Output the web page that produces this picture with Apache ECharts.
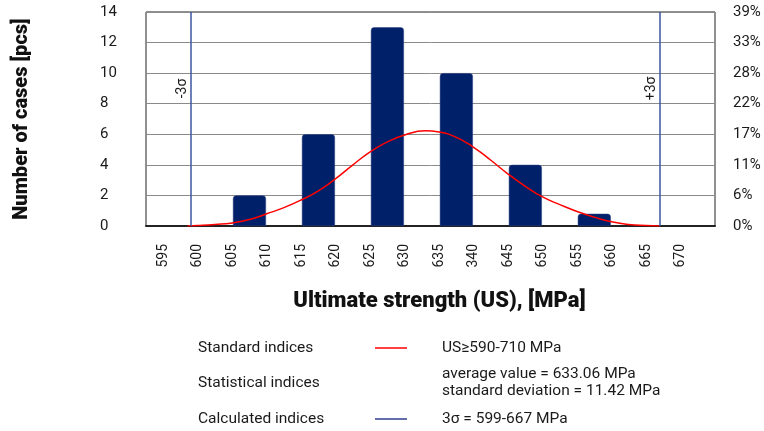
<!DOCTYPE html>
<html>
<head>
<meta charset="utf-8">
<script src="https://cdn.jsdelivr.net/npm/echarts@6/dist/echarts.min.js"></script>
<style>
html,body{margin:0;padding:0;background:#fff;}
#c{width:764px;height:431px;}
</style>
</head>
<body>
<div id="c"></div>
<script>
// ---- data ----
const binCenters = [607.5, 617.5, 627.5, 637.5, 647.5, 657.5];
const binCounts = [2, 6, 13, 10, 4, 0.8];
const curveX = [598.5, 600, 602.5, 605, 607.5, 610, 612.5, 615, 617.5, 620, 622.5, 625, 627.5, 630, 633, 635, 637.5, 640, 642.5, 645, 647.5, 650, 652.5, 655, 657.5, 660, 662.5, 665, 667];
const curveY = [0, 0.03, 0.1, 0.2, 0.42, 0.8, 1.2, 1.7, 2.3, 3.1, 4.0, 4.85, 5.5, 5.95, 6.23, 6.15, 5.8, 5.15, 4.3, 3.4, 2.6, 1.9, 1.4, 0.95, 0.58, 0.28, 0.1, 0.03, 0];
const xTickValues = [595, 600, 605, 610, 615, 620, 625, 630, 635, 640, 645, 650, 655, 660, 665, 670];
const xTickLabels = ['595', '600', '605', '610', '615', '620', '625', '630', '635', '340', '645', '650', '655', '660', '665', '670'];
const rightTickLabels = ['0%', '6%', '11%', '17%', '22%', '28%', '33%', '39%'];
const sigmaX = [599, 667];
const sigmaLabels = ['-3σ', '+3σ'];
const legendRows = [
  {name: 'Standard indices', line: '#ff0000', text: ['US≥590-710 MPa']},
  {name: 'Statistical indices', line: null, text: ['average value = 633.06 MPa', 'standard deviation = 11.42 MPa']},
  {name: 'Calculated indices', line: '#2e3f8f', text: ['3σ = 599-667 MPa']}
];

const FONT = 'Roboto, "Noto Sans", sans-serif';
const TXT = '#1a1a1a';
const chart = echarts.init(document.getElementById('c'), null, {renderer: 'canvas'});

const legendGraphics = [];
const rowY = [348, 383, 419];
const LF = '15.5px ' + FONT;
legendRows.forEach((r, i) => {
  legendGraphics.push({type: 'text', x: 198, y: rowY[i], style: {text: r.name, font: LF, fill: TXT, verticalAlign: 'middle'}});
  if (r.line) legendGraphics.push({type: 'line', shape: {x1: 375, y1: rowY[i], x2: 407, y2: rowY[i]}, style: {stroke: r.line, lineWidth: 1.5}});
  if (r.text.length === 1) {
    legendGraphics.push({type: 'text', x: 442, y: rowY[i], style: {text: r.text[0], font: LF, fill: TXT, verticalAlign: 'middle'}});
  } else {
    legendGraphics.push({type: 'text', x: 442, y: rowY[i] - 9, style: {text: r.text[0], font: LF, fill: TXT, verticalAlign: 'middle'}});
    legendGraphics.push({type: 'text', x: 442, y: rowY[i] + 8, style: {text: r.text[1], font: LF, fill: TXT, verticalAlign: 'middle'}});
  }
});

const option = {
  animation: false,
  backgroundColor: '#fff',
  grid: {left: 146, right: 49, top: 12, bottom: 205, show: true, borderColor: '#222', borderWidth: 1},
  xAxis: {
    type: 'value', min: 592.5, max: 675,
    name: 'Ultimate strength (US), [MPa]', nameLocation: 'middle', nameGap: 64,
    nameTextStyle: {fontFamily: FONT, fontWeight: 900, fontSize: 22, color: '#111', padding: [0, 0, 0, 18]},
    axisLine: {show: true, onZero: false, lineStyle: {color: '#222', width: 2}},
    axisTick: {show: false},
    splitLine: {show: false},
    axisLabel: {
      customValues: xTickValues, rotate: 90, margin: 18,
      fontFamily: FONT, fontSize: 14, color: TXT,
      formatter: v => xTickLabels[xTickValues.indexOf(v)]
    }
  },
  yAxis: [{
    type: 'value', min: 0, max: 14, interval: 2,
    name: 'Number of cases [pcs]', nameLocation: 'middle', nameGap: 114,
    nameTextStyle: {fontFamily: FONT, fontWeight: 900, fontSize: 20, color: '#111'},
    axisLine: {show: false}, axisTick: {show: false},
    splitLine: {show: true, lineStyle: {color: '#8a8a8a', width: 1}},
    axisLabel: {fontFamily: FONT, fontSize: 15, color: TXT, align: 'left', margin: 46}
  }, {
    type: 'value', min: 0, max: 14, interval: 2, position: 'right',
    axisLine: {show: false}, axisTick: {show: false}, splitLine: {show: false},
    axisLabel: {fontFamily: FONT, fontSize: 15, color: TXT, align: 'left', margin: 18,
      formatter: v => rightTickLabels[Math.round(v / 2)]}
  }],
  series: [{
    type: 'bar',
    data: binCenters.map((x, i) => [x, binCounts[i]]),
    barWidth: 33,
    itemStyle: {color: '#00206a', borderRadius: [3, 3, 0, 0], borderColor: '#2a3f80', borderWidth: 0.5},
    z: 2
  }, {
    type: 'line',
    data: curveX.map((x, i) => [x, curveY[i]]),
    smooth: true, showSymbol: false,
    lineStyle: {color: '#ff0000', width: 1.5},
    z: 4,
    markLine: {
      silent: true, symbol: 'none', animation: false,
      label: {show: false},
      lineStyle: {color: '#3b57a0', width: 1.5, type: 'solid'},
      data: sigmaX.map(x => ({xAxis: x}))
    }
  }],
  graphic: legendGraphics
};
chart.setOption(option);

// sigma labels next to the sigma lines
const sigmaGraphics = sigmaX.map((x, i) => {
  const p = chart.convertToPixel({xAxisIndex: 0, yAxisIndex: 0}, [x, 9]);
  return {type: 'text', x: p[0] - 8, y: p[1], rotation: Math.PI / 2,
    style: {text: sigmaLabels[i], font: '14px ' + FONT, fill: TXT, align: 'center', verticalAlign: 'middle'}};
});
chart.setOption({graphic: legendGraphics.concat(sigmaGraphics)});
</script>
</body>
</html>
